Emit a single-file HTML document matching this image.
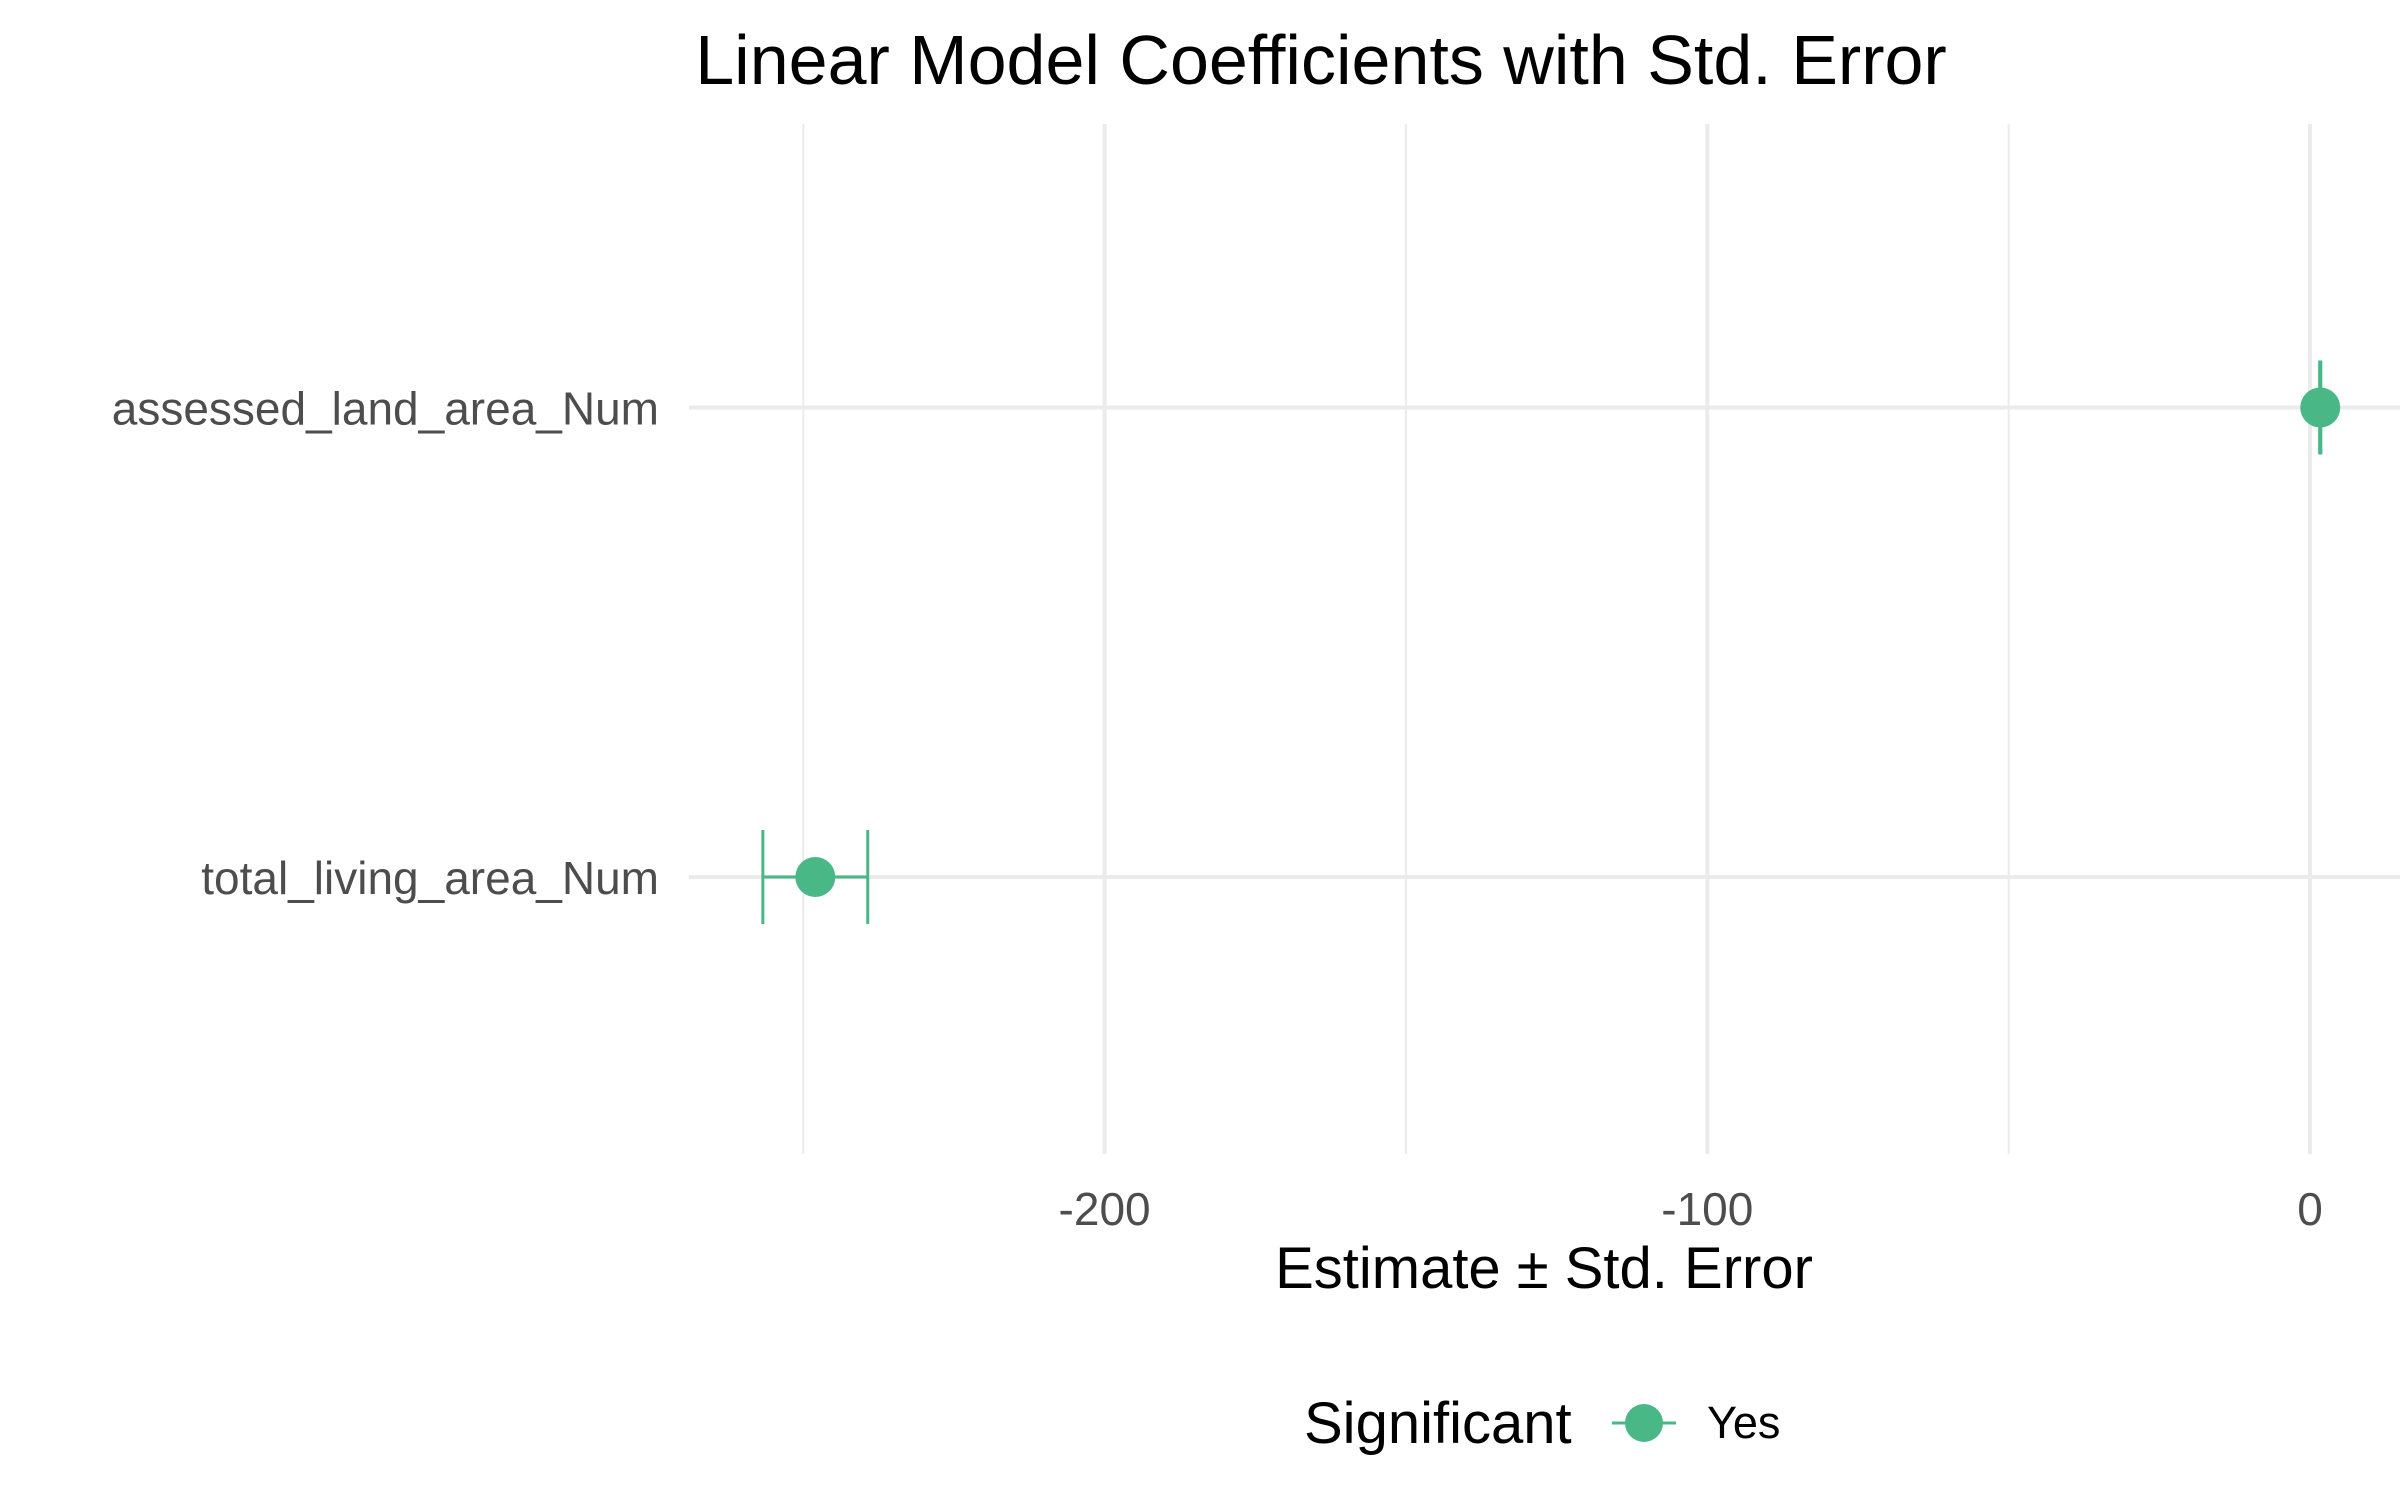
<!DOCTYPE html>
<html><head><meta charset="utf-8"><style>
body{margin:0;background:#fff;}
svg{display:block;font-family:"Liberation Sans",Arial,sans-serif;}
</style></head><body>
<svg id="chart" width="2400" height="1500" viewBox="0 0 2400 1500">
<rect width="2400" height="1500" fill="#fff"/>
<text x="1321" y="84" font-size="70" text-anchor="middle" fill="#000">Linear Model Coefficients with Std. Error</text>
<g id="grid"></g>
<g id="yaxis"></g>
<g id="xaxis"></g>
<g id="marks"></g>
<text x="1544" y="1288" font-size="58" text-anchor="middle" fill="#000">Estimate ± Std. Error</text>
<g>
<text x="1304" y="1443" font-size="58" fill="#000">Significant</text>
<line x1="1612" y1="1423" x2="1676" y2="1423" stroke="#4AB886" stroke-width="3"/>
<circle cx="1644" cy="1423" r="19" fill="#4AB886"/>
<text x="1707" y="1438" font-size="45" fill="#000">Yes</text>
</g>
</svg>
<script>
const categories = ["assessed_land_area_Num", "total_living_area_Num"];
const estimates = [1.7, -248];
const stdErrors = [0.1, 8.7];
const xTicks = [-200, -100, 0];
const xMinorTicks = [-250, -150, -50];

const NS = "http://www.w3.org/2000/svg";
const panelL = 689, panelR = 2400, panelT = 124, panelB = 1154;
const x = v => 2310 + v * 6.027;
const rowY = [407.5, 877];
const y = i => rowY[i];

function mk(tag, attrs, parent) {
  const e = document.createElementNS(NS, tag);
  for (const k in attrs) e.setAttribute(k, attrs[k]);
  parent.appendChild(e);
  return e;
}
const grid = document.getElementById('grid');
const yaxis = document.getElementById('yaxis');
const xaxis = document.getElementById('xaxis');
const marks = document.getElementById('marks');

xMinorTicks.forEach(v => {
  const l = mk('line', {x1: x(v), x2: x(v), y1: panelT, y2: panelB, stroke: '#EBEBEB', 'stroke-width': 2}, grid);
  
  
});
xTicks.forEach(v => {
  const l = mk('line', {x1: x(v), x2: x(v), y1: panelT, y2: panelB, stroke: '#EBEBEB', 'stroke-width': 4}, grid);
  
  
  const t = mk('text', {x: x(v), y: 1225, 'font-size': 46, 'text-anchor': 'middle', fill: '#4D4D4D'}, xaxis);
  t.textContent = v;
  
  
});
categories.forEach((c, i) => {
  const l = mk('line', {x1: panelL, x2: panelR, y1: y(i), y2: y(i), stroke: '#EBEBEB', 'stroke-width': 4}, grid);
  
  
  const t = mk('text', {x: 659, y: y(i) + 17, 'font-size': 46, 'text-anchor': 'end', fill: '#4D4D4D'}, yaxis);
  t.textContent = c;
  
  
});
categories.forEach((c, i) => {
  const lo = x(estimates[i] - stdErrors[i]), hi = x(estimates[i] + stdErrors[i]), cy = y(i), h = 47;
  const g = mk('g', {stroke: '#4AB886', 'stroke-width': 3}, marks);
  
  
  mk('line', {x1: lo, x2: hi, y1: cy, y2: cy}, g);
  mk('line', {x1: lo, x2: lo, y1: cy - h, y2: cy + h}, g);
  mk('line', {x1: hi, x2: hi, y1: cy - h, y2: cy + h}, g);
  const p = mk('circle', {cx: x(estimates[i]), cy: cy, r: 20, fill: '#4AB886'}, marks);
  
  
});
</script>
</body></html>
